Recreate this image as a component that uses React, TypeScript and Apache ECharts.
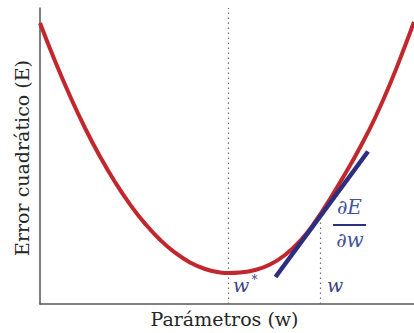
import React, { useEffect, useRef } from "react";
import * as echarts from "echarts";

// Parameter axis (w) positions and error values (E)
const curveW = [0, 15, 30, 45, 60, 75, 90, 105, 120, 135, 150, 165, 180, 189, 200, 215, 230, 245, 260, 275, 290, 305, 320, 335, 350, 365, 374];
const curveE = [281, 243, 208, 176, 147.5, 122, 99.6, 80.4, 64.3, 51.4, 41.6, 35, 31.6, 31, 31.5, 34, 39.5, 49, 63, 82, 105, 130, 156.5, 186, 220, 258, 282];

// Tangent (derivative) line
const tangentW = [235.5, 328];
const tangentE = [27, 152.5];

// Marked positions
const wStar = 188.5;
const wStarTop = 296;
const wPoint = 280.5;
const wPointTop = 82;

const xMax = 374;
const yMax = 296;

const xTitle = "Parámetros (w)";
const yTitle = "Error cuadrático (E)";

export default function App() {
  const ref = useRef<HTMLDivElement>(null);

  useEffect(() => {
    if (!ref.current) return;
    const chart = echarts.init(ref.current, null, { renderer: "svg" });
    const pairs = (xs: number[], ys: number[]) => xs.map((x, i) => [x, ys[i]]);
    const serif = '"DejaVu Serif", "Liberation Serif", serif';
    const dotted = { color: "#6e6e6e", width: 1.2, type: [1.6, 3.4] as any };

    chart.setOption({
      animation: false,
      grid: { left: 40, right: 0, top: 8, bottom: 29 },
      xAxis: {
        type: "value",
        min: 0,
        max: xMax,
        axisLine: { show: true, lineStyle: { color: "#555", width: 1.5 } },
        axisTick: { show: false },
        axisLabel: { show: false },
        splitLine: { show: false },
      },
      yAxis: {
        type: "value",
        min: 0,
        max: yMax,
        axisLine: { show: true, lineStyle: { color: "#555", width: 1.5 } },
        axisTick: { show: false },
        axisLabel: { show: false },
        splitLine: { show: false },
      },
      series: [
        {
          type: "line",
          data: [[wStar, 0], [wStar, wStarTop]],
          showSymbol: false,
          lineStyle: dotted,
          silent: true,
        },
        {
          type: "line",
          data: [[wPoint, 0], [wPoint, wPointTop]],
          showSymbol: false,
          lineStyle: dotted,
          silent: true,
        },
        {
          type: "line",
          data: pairs(curveW, curveE),
          smooth: true,
          showSymbol: false,
          lineStyle: { color: "#c1272d", width: 4 },
        },
        {
          type: "line",
          data: pairs(tangentW, tangentE),
          showSymbol: false,
          lineStyle: { color: "#2b2f7e", width: 4.5, cap: "butt" },
        },
      ],
      graphic: [
        {
          type: "text",
          x: 21.5,
          y: 158,
          rotation: Math.PI / 2,
          style: { text: yTitle, font: `19px ${serif}`, fill: "#262626", align: "center", verticalAlign: "middle" },
        },
        {
          type: "text",
          x: 224.5,
          y: 318.5,
          style: { text: xTitle, font: `19px ${serif}`, fill: "#262626", align: "center", verticalAlign: "middle" },
        },
        {
          type: "text",
          x: 233,
          y: 285,
          style: { text: "w", font: `italic 19px ${serif}`, fill: "#3b4685", align: "left", verticalAlign: "middle" },
        },
        {
          type: "text",
          x: 251.5,
          y: 279.5,
          style: { text: "*", font: `12px ${serif}`, fill: "#3b4685", align: "left", verticalAlign: "middle" },
        },
        {
          type: "text",
          x: 327,
          y: 285,
          style: { text: "w", font: `italic 19px ${serif}`, fill: "#3b4685", align: "left", verticalAlign: "middle" },
        },
        {
          type: "text",
          x: 349.5,
          y: 207,
          style: { text: "∂E", font: `italic 20px ${serif}`, fill: "#4453a0", align: "center", verticalAlign: "middle" },
        },
        {
          type: "rect",
          shape: { x: 333, y: 224, width: 33, height: 2 },
          style: { fill: "#2b3080" },
        },
        {
          type: "text",
          x: 350,
          y: 239.5,
          style: { text: "∂w", font: `italic 20px ${serif}`, fill: "#4453a0", align: "center", verticalAlign: "middle" },
        },
      ],
    });

    return () => chart.dispose();
  }, []);

  return (
    <div
      ref={ref}
      style={{ position: "fixed", left: 0, top: 0, width: 414, height: 333, background: "#fff" }}
    />
  );
}
